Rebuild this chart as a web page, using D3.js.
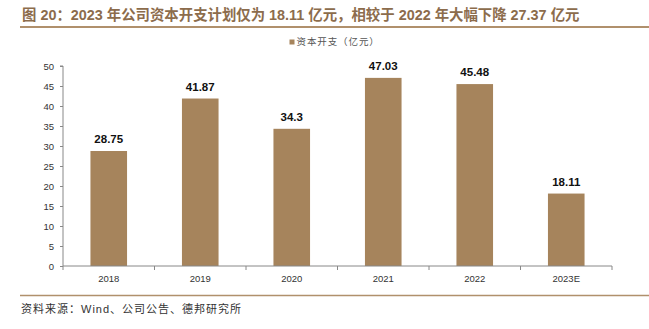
<!DOCTYPE html>
<html>
<head>
<meta charset="utf-8">
<script src="https://cdn.jsdelivr.net/npm/d3@7/dist/d3.min.js"></script>
<style>
  html, body { margin: 0; padding: 0; background: #fff; }
  svg { display: block; }
</style>
</head>
<body>
<svg id="chart" width="649" height="329"></svg>
<script>
// Capital expenditure by year (100 million yuan)
const years = ["2018", "2019", "2020", "2021", "2022", "2023E"];
const capex = [28.75, 41.87, 34.3, 47.03, 45.48, 18.11];
const yTicks = [0, 5, 10, 15, 20, 25, 30, 35, 40, 45, 50];

const titleText = "图 20：2023 年公司资本开支计划仅为 18.11 亿元，相较于 2022 年大幅下降 27.37 亿元";
const legendText = "资本开支（亿元）";
const sourceText = "资料来源：Wind、公司公告、德邦研究所";

const W = 649, H = 329;
const margin = { left: 63, right: 37, top: 66, bottom: 63 };
const barColor = "#A6845C";
const accent = "#8C6C4C";
const font = "'Liberation Sans', Arial, 'Noto Sans CJK SC', sans-serif";

const svg = d3.select("#chart");

// Title and rule beneath it
svg.append("text")
  .attr("x", 22).attr("y", 20)
  .attr("font-family", font)
  .attr("font-size", 14.4).attr("font-weight", "bold")
  .attr("fill", accent)
  .text(titleText);
svg.append("line")
  .attr("x1", 20).attr("x2", 649)
  .attr("y1", 27).attr("y2", 27)
  .attr("stroke", "#B0906C").attr("stroke-width", 1.8);

// Legend
const lg = svg.append("g").attr("transform", "translate(289.5,45)");
lg.append("rect").attr("x", 0).attr("y", -5.5).attr("width", 5).attr("height", 5).attr("fill", barColor);
lg.append("text").attr("x", 7).attr("y", 0)
  .attr("font-family", font).attr("font-size", 9.5).attr("letter-spacing", 0.9).attr("fill", "#555")
  .text(legendText);

const x = d3.scaleBand()
  .domain(years)
  .range([margin.left, W - margin.right])
  .paddingInner(0.6).paddingOuter(0.3);

const y = d3.scaleLinear()
  .domain([0, 50])
  .range([H - margin.bottom, margin.top]);

// Y axis
const yAxis = svg.append("g")
  .attr("transform", `translate(${margin.left},0)`)
  .call(d3.axisLeft(y).tickValues(yTicks).tickSize(3).tickPadding(6));
yAxis.select(".domain").attr("stroke", "#888").attr("d", `M-3,${y(50)}H0V${y(0)}`);
yAxis.selectAll(".tick line").attr("stroke", "#888");
yAxis.selectAll(".tick text")
  .attr("font-family", font).attr("font-size", 9.5).attr("fill", "#333");

const rows = years.map((yr, i) => ({ yr, v: capex[i] }));

// Bars
svg.append("g").selectAll("rect")
  .data(rows)
  .join("rect")
  .attr("x", d => x(d.yr))
  .attr("y", d => y(d.v))
  .attr("width", x.bandwidth())
  .attr("height", d => y(0) - y(d.v))
  .attr("fill", barColor);

// Value labels
svg.append("g").selectAll("text")
  .data(rows)
  .join("text")
  .attr("x", d => x(d.yr) + x.bandwidth() / 2)
  .attr("y", d => y(d.v) - 8)
  .attr("text-anchor", "middle")
  .attr("font-family", font).attr("font-size", 11.5).attr("font-weight", "bold")
  .attr("fill", "#111")
  .text(d => String(d.v));

// X axis with ticks between categories
const xg = svg.append("g").attr("transform", `translate(0,${y(0)})`);
xg.append("line")
  .attr("x1", margin.left).attr("x2", W - margin.right)
  .attr("y1", 0).attr("y2", 0)
  .attr("stroke", "#888");
const bounds = d3.range(years.length + 1).map(i => margin.left + i * (W - margin.left - margin.right) / years.length);
xg.selectAll("line.sep").data(bounds).join("line")
  .attr("class", "sep")
  .attr("x1", d => d).attr("x2", d => d)
  .attr("y1", 0).attr("y2", 4)
  .attr("stroke", "#888");
xg.selectAll("text").data(years).join("text")
  .attr("x", d => x(d) + x.bandwidth() / 2)
  .attr("y", 16)
  .attr("text-anchor", "middle")
  .attr("font-family", font).attr("font-size", 9.5).attr("fill", "#333")
  .text(d => d);

// Bottom rule and source note
svg.append("line")
  .attr("x1", 20).attr("x2", 649)
  .attr("y1", 295.5).attr("y2", 295.5)
  .attr("stroke", "#B0906C").attr("stroke-width", 1.5);
svg.append("text")
  .attr("x", 21).attr("y", 313)
  .attr("font-family", font).attr("font-size", 11).attr("letter-spacing", 1).attr("fill", "#333")
  .text(sourceText);
</script>
</body>
</html>
